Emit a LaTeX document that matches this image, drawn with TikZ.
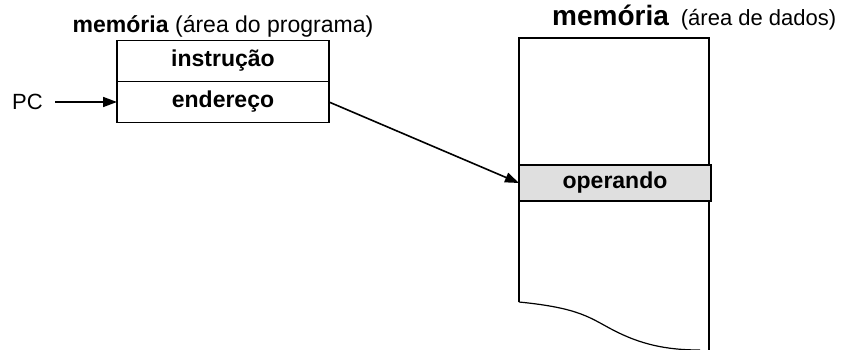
\documentclass[tikz,border=0pt]{standalone}
\usepackage{fontspec}
\setmainfont{Liberation Sans}
\usetikzlibrary{arrows.meta,positioning}

\begin{document}
\begin{tikzpicture}[
    x=1pt, y=-1pt,
    cell/.style={draw, rectangle, line width=1.2pt, minimum width=212pt, minimum height=41pt, inner sep=0pt, outer sep=0pt, font=\fontsize{23}{27}\selectfont\bfseries},
    ptr/.style={-{Triangle[length=14pt,width=10pt]}, line width=1.6pt}
]
\useasboundingbox (0,0) rectangle (846,350);

% area do programa
\node (instr) [cell] at (223,61) {instrução};
\node (ender) [cell, below=0pt of instr] {endereço};
\node (ptitle) [above=3pt of instr, inner sep=0pt, font=\fontsize{23}{27}\selectfont] {\textbf{memória} (área do programa)};
\node (pc) [left=74pt of ender, inner sep=0pt, font=\fontsize{22}{26}\selectfont] {PC};

% area de dados
\draw [line width=1.2pt] (519,302) |- (709,38) -- (709,350);
\draw [line width=1.2pt] (519,302) .. controls (580,308) and (590,318) .. (613,330) .. controls (640,344) and (665,350) .. (700,350);
\node (oper) [cell, fill=gray!25, minimum width=192pt, minimum height=36pt, line width=1.6pt] at (615,183) {operando};
\node (dtitle) [anchor=base west, inner sep=0pt, font=\fontsize{22}{26}\selectfont] at (552,26) {{\fontsize{28}{32}\selectfont\bfseries memória}\hspace{12pt}(área de dados)};

\draw [ptr, shorten <=12pt] (pc) -- (ender);
\draw [ptr] (ender.east) -- (oper.west);
\end{tikzpicture}
\end{document}
